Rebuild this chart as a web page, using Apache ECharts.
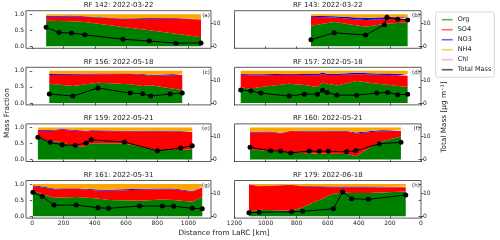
<!DOCTYPE html>
<html><head><meta charset="utf-8">
<script src="https://cdn.jsdelivr.net/npm/echarts@6/dist/echarts.min.js"></script>
<style>html,body{margin:0;padding:0;background:#fff}#c{width:500px;height:240px}</style>
</head><body><div id="c"></div>
<script>
// ---------------- DATA ----------------
const panelTitles = ["RF 142: 2022-03-22", "RF 143: 2022-03-22", "RF 156: 2022-05-18", "RF 157: 2022-05-18",
                     "RF 159: 2022-05-21", "RF 160: 2022-05-21", "RF 161: 2022-05-31", "RF 179: 2022-06-18"];
const panelLetters = ["(a)", "(b)", "(c)", "(d)", "(e)", "(f)", "(g)", "(h)"];
const speciesNames = ["Org", "SO4", "NO3", "NH4", "Chl"];
const massName = "Total Mass";
const leftDistTicks = [0, 200, 400, 600, 800, 1000];
const rightDistTicks = [0, 200, 400, 600, 800, 1000, 1200];
const fracTicks = [0, 0.5, 1.0];
const massTicks = [0, 10];

// RF 142
const rf142Dist = [89, 171, 251, 337, 580, 750, 920, 1080];
const rf142Mass = [8.3, 6.0, 5.8, 5.0, 3.1, 2.3, 1.4, 1.5];
const rf142Org = [0.80, 0.79, 0.78, 0.76, 0.60, 0.50, 0.39, 0.28];
const rf142SO4 = [0.12, 0.13, 0.15, 0.16, 0.25, 0.36, 0.48, 0.56];
const rf142NO3 = [0.03, 0.03, 0.03, 0.02, 0.02, 0.02, 0.01, 0.01];
const rf142NH4 = [0.05, 0.05, 0.04, 0.06, 0.13, 0.12, 0.12, 0.15];
const rf142Chl = [0, 0, 0, 0, 0, 0, 0, 0];
// RF 143
const rf143Dist = [708, 558, 356, 236, 219, 150, 86];
const rf143Mass = [2.9, 5.9, 4.9, 9.4, 12.7, 11.8, 11.5];
const rf143Org = [0.64, 0.76, 0.61, 0.70, 0.71, 0.73, 0.75];
const rf143SO4 = [0.28, 0.14, 0.21, 0.15, 0.14, 0.13, 0.11];
const rf143NO3 = [0.03, 0.04, 0.06, 0.06, 0.06, 0.05, 0.05];
const rf143NH4 = [0.05, 0.06, 0.12, 0.09, 0.09, 0.09, 0.09];
const rf143Chl = [0, 0, 0, 0, 0, 0, 0];
// RF 156
const rf156Dist = [109, 260, 420, 626, 707, 758, 882, 960];
const rf156Mass = [3.9, 3.0, 6.5, 4.3, 4.0, 3.0, 3.9, 4.3];
const rf156Org = [0.60, 0.53, 0.63, 0.58, 0.53, 0.55, 0.46, 0.40];
const rf156SO4 = [0.27, 0.35, 0.26, 0.32, 0.35, 0.30, 0.40, 0.48];
const rf156NO3 = [0.04, 0.03, 0.03, 0.02, 0.02, 0.02, 0.03, 0.03];
const rf156NH4 = [0.09, 0.09, 0.08, 0.08, 0.10, 0.13, 0.11, 0.09];
const rf156Chl = [0, 0, 0, 0, 0, 0, 0, 0];
// RF 157
const rf157Dist = [1160, 1094, 1030, 849, 751, 667, 633, 604, 542, 414, 285, 214, 150, 86];
const rf157Mass = [5.6, 5.3, 4.3, 3.0, 3.8, 3.8, 5.5, 4.6, 3.4, 3.4, 4.3, 4.6, 3.6, 3.8];
const rf157Org = [0.48, 0.45, 0.50, 0.60, 0.56, 0.50, 0.64, 0.60, 0.54, 0.68, 0.60, 0.57, 0.53, 0.50];
const rf157SO4 = [0.40, 0.41, 0.36, 0.28, 0.31, 0.36, 0.26, 0.27, 0.33, 0.21, 0.28, 0.30, 0.33, 0.35];
const rf157NO3 = [0.02, 0.03, 0.03, 0.03, 0.03, 0.04, 0.05, 0.04, 0.04, 0.05, 0.04, 0.05, 0.05, 0.05];
const rf157NH4 = [0.10, 0.11, 0.11, 0.09, 0.10, 0.10, 0.05, 0.09, 0.09, 0.06, 0.08, 0.08, 0.09, 0.10];
const rf157Chl = [0, 0, 0, 0, 0, 0, 0, 0, 0, 0, 0, 0, 0, 0];
// RF 159
const rf159Dist = [36, 115, 192, 275, 345, 377, 590, 801, 950, 1024];
const rf159Mass = [9.7, 7.5, 6.4, 6.2, 7.2, 8.6, 7.6, 3.8, 5.0, 6.0];
const rf159Org = [0.66, 0.57, 0.55, 0.38, 0.42, 0.51, 0.50, 0.30, 0.30, 0.33];
const rf159SO4 = [0.24, 0.33, 0.38, 0.52, 0.46, 0.38, 0.38, 0.57, 0.56, 0.53];
const rf159NO3 = [0.02, 0.02, 0.02, 0.02, 0.02, 0.02, 0.02, 0.02, 0.02, 0.02];
const rf159NH4 = [0.08, 0.08, 0.05, 0.08, 0.10, 0.09, 0.10, 0.11, 0.12, 0.12];
const rf159Chl = [0, 0, 0, 0, 0, 0, 0, 0, 0, 0];
// RF 160
const rf160Dist = [1100, 967, 903, 838, 719, 654, 596, 478, 420, 268, 129];
const rf160Mass = [5.3, 3.8, 3.7, 2.9, 3.7, 3.6, 3.6, 3.4, 3.8, 6.9, 7.5];
const rf160Org = [0.31, 0.27, 0.26, 0.22, 0.20, 0.19, 0.18, 0.17, 0.10, 0.55, 0.72];
const rf160SO4 = [0.53, 0.58, 0.55, 0.67, 0.66, 0.67, 0.69, 0.70, 0.71, 0.33, 0.18];
const rf160NO3 = [0.02, 0.02, 0.02, 0.01, 0.02, 0.02, 0.02, 0.02, 0.03, 0.03, 0.03];
const rf160NH4 = [0.14, 0.13, 0.17, 0.10, 0.12, 0.12, 0.11, 0.11, 0.16, 0.09, 0.07];
const rf160Chl = [0, 0, 0, 0, 0, 0, 0, 0, 0, 0, 0];
// RF 161
const rf161Dist = [4, 64, 139, 281, 420, 488, 686, 833, 905, 1024, 1088];
const rf161Mass = [10.4, 8.6, 4.8, 4.8, 3.7, 3.4, 4.4, 4.4, 4.3, 3.4, 3.2];
const rf161Org = [0.79, 0.68, 0.57, 0.60, 0.55, 0.50, 0.48, 0.52, 0.50, 0.45, 0.60];
const rf161SO4 = [0.15, 0.21, 0.27, 0.25, 0.25, 0.29, 0.34, 0.32, 0.34, 0.31, 0.30];
const rf161NO3 = [0.02, 0.03, 0.02, 0.02, 0.03, 0.03, 0.03, 0.02, 0.02, 0.02, 0.03];
const rf161NH4 = [0.04, 0.08, 0.14, 0.13, 0.17, 0.18, 0.15, 0.14, 0.14, 0.22, 0.07];
const rf161Chl = [0, 0, 0, 0, 0, 0, 0, 0, 0, 0, 0];
// RF 179
const rf179Dist = [1107, 1041, 832, 761, 564, 504, 446, 339, 98];
const rf179Mass = [1.5, 1.7, 1.9, 2.1, 3.2, 10.5, 7.6, 7.3, 9.2];
const rf179Org = [0.14, 0.20, 0.17, 0.28, 0.70, 0.74, 0.72, 0.72, 0.77];
const rf179SO4 = [0.84, 0.73, 0.80, 0.64, 0.20, 0.16, 0.18, 0.18, 0.13];
const rf179NO3 = [0.01, 0.01, 0.01, 0.02, 0.02, 0.02, 0.02, 0.02, 0.02];
const rf179NH4 = [0.01, 0.06, 0.02, 0.06, 0.08, 0.08, 0.08, 0.08, 0.08];
const rf179Chl = [0, 0, 0, 0, 0, 0, 0, 0, 0];

// ---------------- LAYOUT / STYLE ----------------
const panels = [
  {dist: rf142Dist, mass: rf142Mass, sp: [rf142Org, rf142SO4, rf142NO3, rf142NH4, rf142Chl]},
  {dist: rf143Dist, mass: rf143Mass, sp: [rf143Org, rf143SO4, rf143NO3, rf143NH4, rf143Chl]},
  {dist: rf156Dist, mass: rf156Mass, sp: [rf156Org, rf156SO4, rf156NO3, rf156NH4, rf156Chl]},
  {dist: rf157Dist, mass: rf157Mass, sp: [rf157Org, rf157SO4, rf157NO3, rf157NH4, rf157Chl]},
  {dist: rf159Dist, mass: rf159Mass, sp: [rf159Org, rf159SO4, rf159NO3, rf159NH4, rf159Chl]},
  {dist: rf160Dist, mass: rf160Mass, sp: [rf160Org, rf160SO4, rf160NO3, rf160NH4, rf160Chl]},
  {dist: rf161Dist, mass: rf161Mass, sp: [rf161Org, rf161SO4, rf161NO3, rf161NH4, rf161Chl]},
  {dist: rf179Dist, mass: rf179Mass, sp: [rf179Org, rf179SO4, rf179NO3, rf179NH4, rf179Chl]}
];
const speciesColors = ['#008000', '#ff0000', '#0000ff', '#ffa500', '#ee82ee'];
const legendColors = ['#5fae5f', '#ff6b6b', '#6b6bff', '#ffc766', '#f3b4f3', '#555555'];
const FONT = '"DejaVu Sans", sans-serif';
const colX = [26, 234.5], colW = [185, 186.5];
const rowTop = [10.7, 67.3, 123.9, 180.5], H = 37.6;
const TXT = '#222', AX = '#333';

const grid = [], xAxis = [], yAxis = [], series = [], graphic = [];
panels.forEach((p, i) => {
  const col = i % 2, row = Math.floor(i / 2);
  const left = colX[col], top = rowTop[row], w = colW[col];
  grid.push({left: left, top: top, width: w, height: H, show: true, borderColor: AX, borderWidth: 0.8, backgroundColor: 'transparent'});
  const ticks = col === 0 ? leftDistTicks : rightDistTicks;
  xAxis.push({
    type: 'value', gridIndex: i,
    min: col === 0 ? -40 : 0, max: col === 0 ? 1144 : 1200, inverse: col === 1,
    axisLine: {show: false}, splitLine: {show: false},
    axisTick: {show: true, customValues: ticks, length: 2.5, lineStyle: {color: AX, width: 0.8}},
    axisLabel: {show: row === 3, customValues: ticks, fontSize: 6, margin: 2.5, color: TXT, fontFamily: FONT,
                formatter: v => String(v)}
  });
  yAxis.push({
    type: 'value', gridIndex: i, position: 'left', min: -0.06, max: 1.11,
    axisLine: {show: false}, splitLine: {show: false},
    axisTick: {show: true, customValues: fracTicks, length: 2.5, lineStyle: {color: AX, width: 0.8}},
    axisLabel: {show: col === 0, customValues: fracTicks, fontSize: 6, margin: 2, color: TXT, fontFamily: FONT,
                formatter: v => v.toFixed(1)}
  });
  yAxis.push({
    type: 'value', gridIndex: i, position: 'right', min: -0.84, max: 15.5,
    axisLine: {show: false}, splitLine: {show: false},
    axisTick: {show: true, customValues: massTicks, length: 2.5, lineStyle: {color: AX, width: 0.8}},
    axisLabel: {show: true, customValues: massTicks, fontSize: 6, margin: 2, color: TXT, fontFamily: FONT,
                formatter: v => String(v)}
  });
  p.sp.forEach((vals, k) => {
    series.push({
      name: speciesNames[k], type: 'line', stack: 'frac' + i, xAxisIndex: i, yAxisIndex: 2 * i,
      // value first so the library stacks the fraction (y) dimension
      data: p.dist.map((d, j) => [vals[j], d]),
      encode: {x: 1, y: 0},
      symbol: 'none', lineStyle: {width: 0}, areaStyle: {color: speciesColors[k], opacity: 1},
      itemStyle: {color: speciesColors[k]}, z: 2, silent: true
    });
  });
  series.push({
    name: massName, type: 'line', xAxisIndex: i, yAxisIndex: 2 * i + 1,
    data: p.dist.map((d, j) => [d, p.mass[j]]),
    symbol: 'circle', symbolSize: 5, showSymbol: true,
    lineStyle: {color: '#000', width: 1}, itemStyle: {color: '#000'}, z: 5, silent: true
  });
  graphic.push({type: 'text', x: left + w / 2, y: top - 5.5,
    style: {text: panelTitles[i], font: '7px ' + FONT, fill: TXT, align: 'center', verticalAlign: 'middle'}});
  graphic.push({type: 'text', x: left + w - 1.2, y: top + 4.8, z: 10,
    style: {text: panelLetters[i], font: '5.5px ' + FONT, fill: TXT, align: 'right', verticalAlign: 'middle'}});
});
graphic.push({type: 'text', x: 7, y: 113, rotation: Math.PI / 2,
  style: {text: 'Mass Fraction', font: '7.3px ' + FONT, fill: TXT, align: 'center', verticalAlign: 'middle'}});
graphic.push({type: 'text', x: 444, y: 117, rotation: Math.PI / 2,
  style: {text: 'Total Mass [μg m⁻³]', font: '7.3px ' + FONT, fill: TXT, align: 'center', verticalAlign: 'middle'}});
graphic.push({type: 'text', x: 224, y: 233,
  style: {text: 'Distance from LaRC [km]', font: '7.3px ' + FONT, fill: TXT, align: 'center', verticalAlign: 'middle'}});

const legendNames = speciesNames.concat([massName]);
const option = {
  animation: false,
  grid, xAxis, yAxis, series, graphic,
  legend: {
    orient: 'vertical', left: 435.7, top: 12,
    padding: [4.2, 3, 4, 6], itemGap: 3, itemWidth: 11, itemHeight: 1.6,
    borderColor: '#cccccc', borderWidth: 0.8, borderRadius: 2, backgroundColor: '#fff',
    textStyle: {fontSize: 6.5, color: TXT, fontFamily: FONT, lineHeight: 7},
    selectedMode: false,
    data: legendNames.map((n, k) => ({name: n, icon: 'rect', itemStyle: {color: legendColors[k]}}))
  }
};
const chart = echarts.init(document.getElementById('c'), null, {renderer: 'canvas'});
chart.setOption(option);
</script></body></html>
